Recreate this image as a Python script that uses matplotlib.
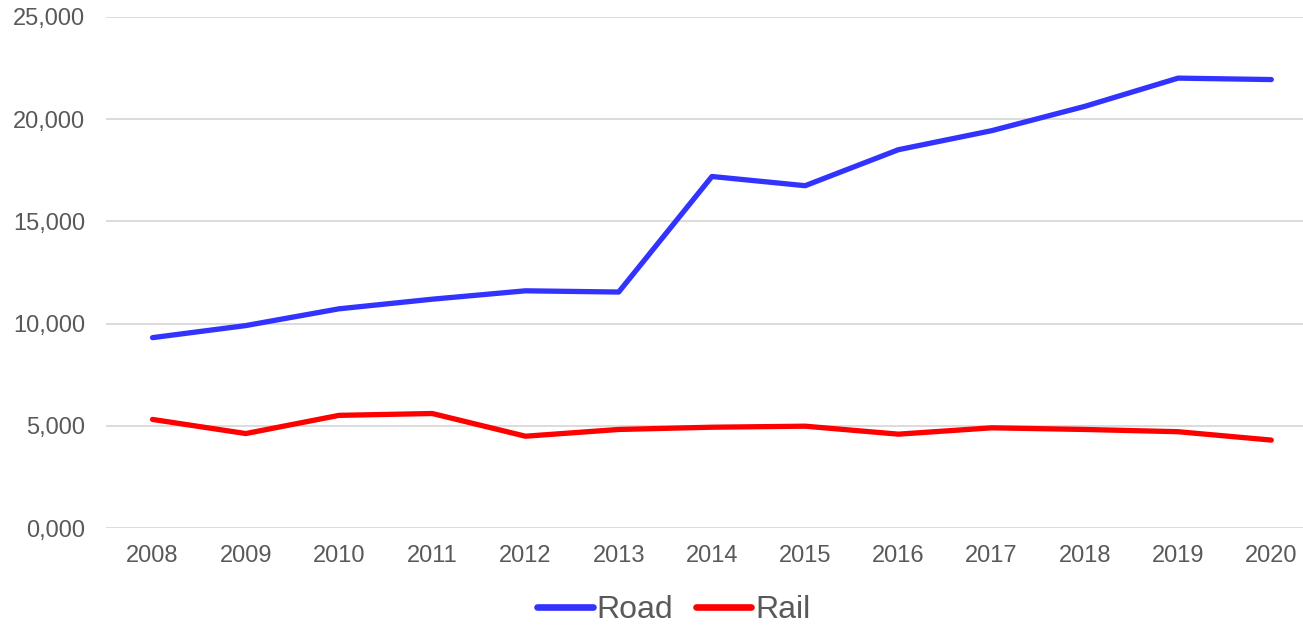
import matplotlib
matplotlib.use("Agg")
import matplotlib.pyplot as plt
from matplotlib.ticker import FuncFormatter

# Data
years = ["2008", "2009", "2010", "2011", "2012", "2013", "2014",
         "2015", "2016", "2017", "2018", "2019", "2020"]
road = [9310, 9900, 10720, 11190, 11600, 11540, 17190,
        16740, 18500, 19430, 20620, 22000, 21930]
rail = [5310, 4620, 5510, 5600, 4490, 4820, 4930,
        4980, 4590, 4900, 4820, 4710, 4300]

plt.rcParams['font.family'] = ['Liberation Sans', 'DejaVu Sans']
GREY = '#595959'

fig = plt.figure(figsize=(13.03, 6.26), dpi=100)
ax = fig.add_axes([0.0813, 0.1565, 0.9187, 0.8167])

x = range(len(years))
ax.plot(x, road, color='#3333FF', lw=3.8, solid_capstyle='round', solid_joinstyle='round', label='Road')
ax.plot(x, rail, color='#FF0000', lw=3.8, solid_capstyle='round', solid_joinstyle='round', label='Rail')

ax.set_xlim(-0.5, 12.34)
ax.set_ylim(0, 25000)
ax.set_yticks(range(0, 25001, 5000))
ax.yaxis.set_major_formatter(FuncFormatter(lambda v, p: f"{v/1000:.3f}".replace('.', ',')))
ax.set_xticks(list(x))
ax.set_xticklabels(years)

ax.grid(axis='y', color='#D9D9D9', lw=1.3)
ax.set_axisbelow(True)
for s in ax.spines.values():
    s.set_visible(False)
ax.tick_params(length=0, labelsize=17, colors=GREY)
ax.tick_params(axis='y', pad=15)
ax.tick_params(axis='x', pad=12)

leg = fig.legend(loc='center', bbox_to_anchor=(0.517, 0.025), ncol=2, frameon=False,
                 fontsize=23, handlelength=1.75, handletextpad=0.12, columnspacing=0.7)
for t in leg.get_texts():
    t.set_color(GREY)
for h in leg.get_lines():
    h.set_linewidth(4.8)

fig.savefig('out.png', dpi=100)
